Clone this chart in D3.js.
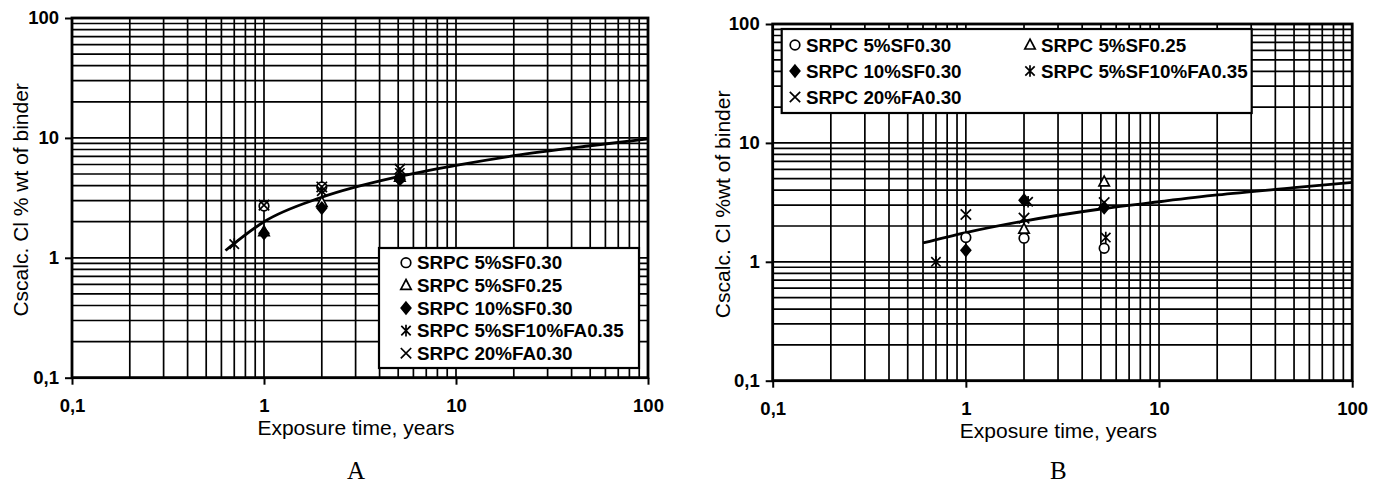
<!DOCTYPE html>
<html>
<head>
<meta charset="utf-8">
<script src="https://cdn.jsdelivr.net/npm/d3@7"></script>
<style>
  html, body { margin: 0; padding: 0; background: #fff; }
  svg { display: block; }
</style>
</head>
<body>
<svg id="chart" width="1382" height="494"></svg>
<script>
// Axis ticks (log scales, decimal comma)
const xTickValues = [0.1, 1, 10, 100];
const xTickLabels = ["0,1", "1", "10", "100"];
const yTickValues = [0.1, 1, 10, 100];
const yTickLabels = ["0,1", "1", "10", "100"];

// Mix names and their marker shapes
const mixLabels = ["SRPC 5%SF0.30", "SRPC 5%SF0.25", "SRPC 10%SF0.30", "SRPC 5%SF10%FA0.35", "SRPC 20%FA0.30"];
const mixSymbols = ["circle", "triangle", "diamond", "asterisk", "cross"];

// Panel A: [exposure time (years), Cs calc. Cl % wt of binder]
const a5SF030 = [[1, 2.7], [2, 3.9], [5.1, 4.6]];
const a5SF025 = [[1, 1.65], [2, 2.9], [5.1, 4.7]];
const a10SF030 = [[1, 1.6], [2, 2.6], [5.1, 4.5]];
const a5SF10FA035 = [[0.7, 1.3], [2, 3.6], [5.1, 5.1]];
const a20FA030 = [[1, 2.75], [2, 3.9], [5.1, 5.5]];
const trendA = [[0.63, 1.15], [1, 2.0], [2, 3.2], [5, 4.75], [10, 5.9], [20, 7.1], [50, 8.6], [100, 9.8]];

// Panel B
const b5SF030 = [[1, 1.6], [2, 1.58], [5.2, 1.3]];
const b5SF025 = [[2, 1.88], [5.2, 4.7]];
const b10SF030 = [[1, 1.25], [2, 3.3], [5.2, 2.85]];
const b5SF10FA035 = [[0.7, 1.0], [2.1, 3.2], [5.3, 1.6]];
const b20FA030 = [[1, 2.5], [2, 2.33], [5.2, 3.15]];
const trendB = [[0.6, 1.44], [1, 1.76], [2, 2.2], [5, 2.78], [10, 3.2], [20, 3.65], [50, 4.2], [100, 4.66]];

const SANS = "'Liberation Sans', Arial, sans-serif";
const SERIF = "'Liberation Serif', 'Times New Roman', serif";

const svg = d3.select("#chart");

// every 1..9 multiple inside each decade
function logGrid(lo, hi) {
  const out = [];
  for (let e = Math.log10(lo); e < Math.log10(hi); e++) {
    for (let m = 1; m <= 9; m++) out.push(m * Math.pow(10, e));
  }
  out.push(hi);
  return out;
}

function drawMarker(g, shape, cx, cy) {
  const s = g.append("g").attr("transform", `translate(${cx},${cy})`)
    .attr("fill", "none").attr("stroke", "#000").attr("stroke-width", 1.7);
  if (shape === "circle") {
    s.append("circle").attr("r", 4.8).attr("fill", "#fff");
  } else if (shape === "triangle") {
    s.append("path").attr("d", "M0,-5.8L5.2,4L-5.2,4Z").attr("fill", "#fff");
  } else if (shape === "diamond") {
    s.append("path").attr("d", "M0,-5.8L4.8,0L0,5.8L-4.8,0Z").attr("fill", "#000");
  } else if (shape === "asterisk") {
    s.append("path").attr("d", "M-4.7,-4.7L4.7,4.7M4.7,-4.7L-4.7,4.7M0,-5.8L0,5.8");
  } else if (shape === "cross") {
    s.append("path").attr("d", "M-5.2,-5.2L5.2,5.2M5.2,-5.2L-5.2,5.2");
  }
}

function drawPanel(cfg) {
  const g = svg.append("g").attr("transform", `translate(${cfg.left},${cfg.top})`);
  const x = d3.scaleLog().domain([0.1, 100]).range([0, cfg.width]);
  const y = d3.scaleLog().domain([0.1, 100]).range([cfg.height, 0]);

  // grid
  const grid = g.append("g").attr("stroke", "#000").attr("stroke-width", 1.7);
  logGrid(0.1, 100).forEach(v => {
    grid.append("line").attr("x1", x(v)).attr("x2", x(v)).attr("y1", 0).attr("y2", cfg.height);
    grid.append("line").attr("x1", 0).attr("x2", cfg.width).attr("y1", y(v)).attr("y2", y(v));
  });

  // axes
  const xAxis = d3.axisBottom(x).tickValues(xTickValues).tickFormat((d, i) => xTickLabels[i]).tickSize(7).tickPadding(14);
  const yAxis = d3.axisLeft(y).tickValues(yTickValues).tickFormat((d, i) => yTickLabels[i]).tickSize(7).tickPadding(6);
  const gx = g.append("g").attr("transform", `translate(0,${cfg.height})`).call(xAxis);
  const gy = g.append("g").call(yAxis);
  [gx, gy].forEach(a => {
    a.select(".domain").remove();
    a.selectAll(".tick line").attr("stroke", "#000").attr("stroke-width", 2);
    a.selectAll(".tick text").style("font-size", "18.5px").style("font-weight", "bold")
      .style("font-family", SANS).attr("fill", "#000");
  });

  // frame
  g.append("rect").attr("width", cfg.width).attr("height", cfg.height)
    .attr("fill", "none").attr("stroke", "#000").attr("stroke-width", 2.8);

  // legend box
  const lg = g.append("g");
  lg.append("rect").attr("x", cfg.legend.x).attr("y", cfg.legend.y)
    .attr("width", cfg.legend.w).attr("height", cfg.legend.h)
    .attr("fill", "#fff").attr("stroke", "#000").attr("stroke-width", 2.2);
  cfg.legend.items.forEach((it, i) => {
    drawMarker(lg, mixSymbols[i], it[0], it[1]);
    lg.append("text").attr("x", it[0] + 11).attr("y", it[1]).attr("dy", "0.36em")
      .style("font-size", "18.8px").style("font-weight", "bold").style("font-family", SANS)
      .attr("fill", "#000").text(mixLabels[i]);
  });

  // trend line
  g.append("path").datum(cfg.trend)
    .attr("fill", "none").attr("stroke", "#000").attr("stroke-width", 2.8)
    .attr("d", d3.line().x(d => x(d[0])).y(d => y(d[1])).curve(d3.curveMonotoneX));

  // measured points
  const pts = g.append("g");
  cfg.series.forEach((ser, i) => {
    ser.forEach(d => drawMarker(pts, mixSymbols[i], x(d[0]), y(d[1])));
  });

  // titles
  svg.append("text").attr("x", cfg.left + cfg.width / 2 - 4).attr("y", cfg.top + cfg.height + cfg.xtitleDy)
    .attr("text-anchor", "middle").style("font-size", "21px").style("font-family", SANS)
    .attr("fill", "#000").text("Exposure time, years");
  svg.append("text").attr("transform", `translate(${cfg.ytitleX},${cfg.top + cfg.height / 2 + 2}) rotate(-90)`)
    .attr("text-anchor", "middle").style("font-size", "21px").style("font-family", SANS)
    .attr("fill", "#000").text(cfg.ytitle);
  svg.append("text").attr("x", cfg.left + cfg.width / 2 - 4).attr("y", 479)
    .attr("text-anchor", "middle").style("font-size", "25px").style("font-family", SERIF)
    .attr("fill", "#000").text(cfg.letter);
}

drawPanel({
  left: 72, top: 18, width: 576, height: 359.7,
  series: [a5SF030, a5SF025, a10SF030, a5SF10FA035, a20FA030],
  trend: trendA,
  ytitle: "Cscalc. Cl % wt of binder", ytitleX: 28, xtitleDy: 57, letter: "A",
  legend: {
    x: 307, y: 230, w: 260, h: 120,
    items: [[334, 244.7], [334, 267.3], [334, 290], [334, 312.6], [334, 335.2]]
  }
});

drawPanel({
  left: 772.7, top: 24, width: 579.5, height: 356.7,
  series: [b5SF030, b5SF025, b10SF030, b5SF10FA035, b20FA030],
  trend: trendB,
  ytitle: "Cscalc. Cl %wt of binder", ytitleX: 730, xtitleDy: 57, letter: "B",
  legend: {
    x: 9, y: 5, w: 470, h: 84,
    items: [[22.3, 21], [257.3, 21], [22.3, 47], [257.3, 47], [22.3, 73]]
  }
});
</script>
</body>
</html>
